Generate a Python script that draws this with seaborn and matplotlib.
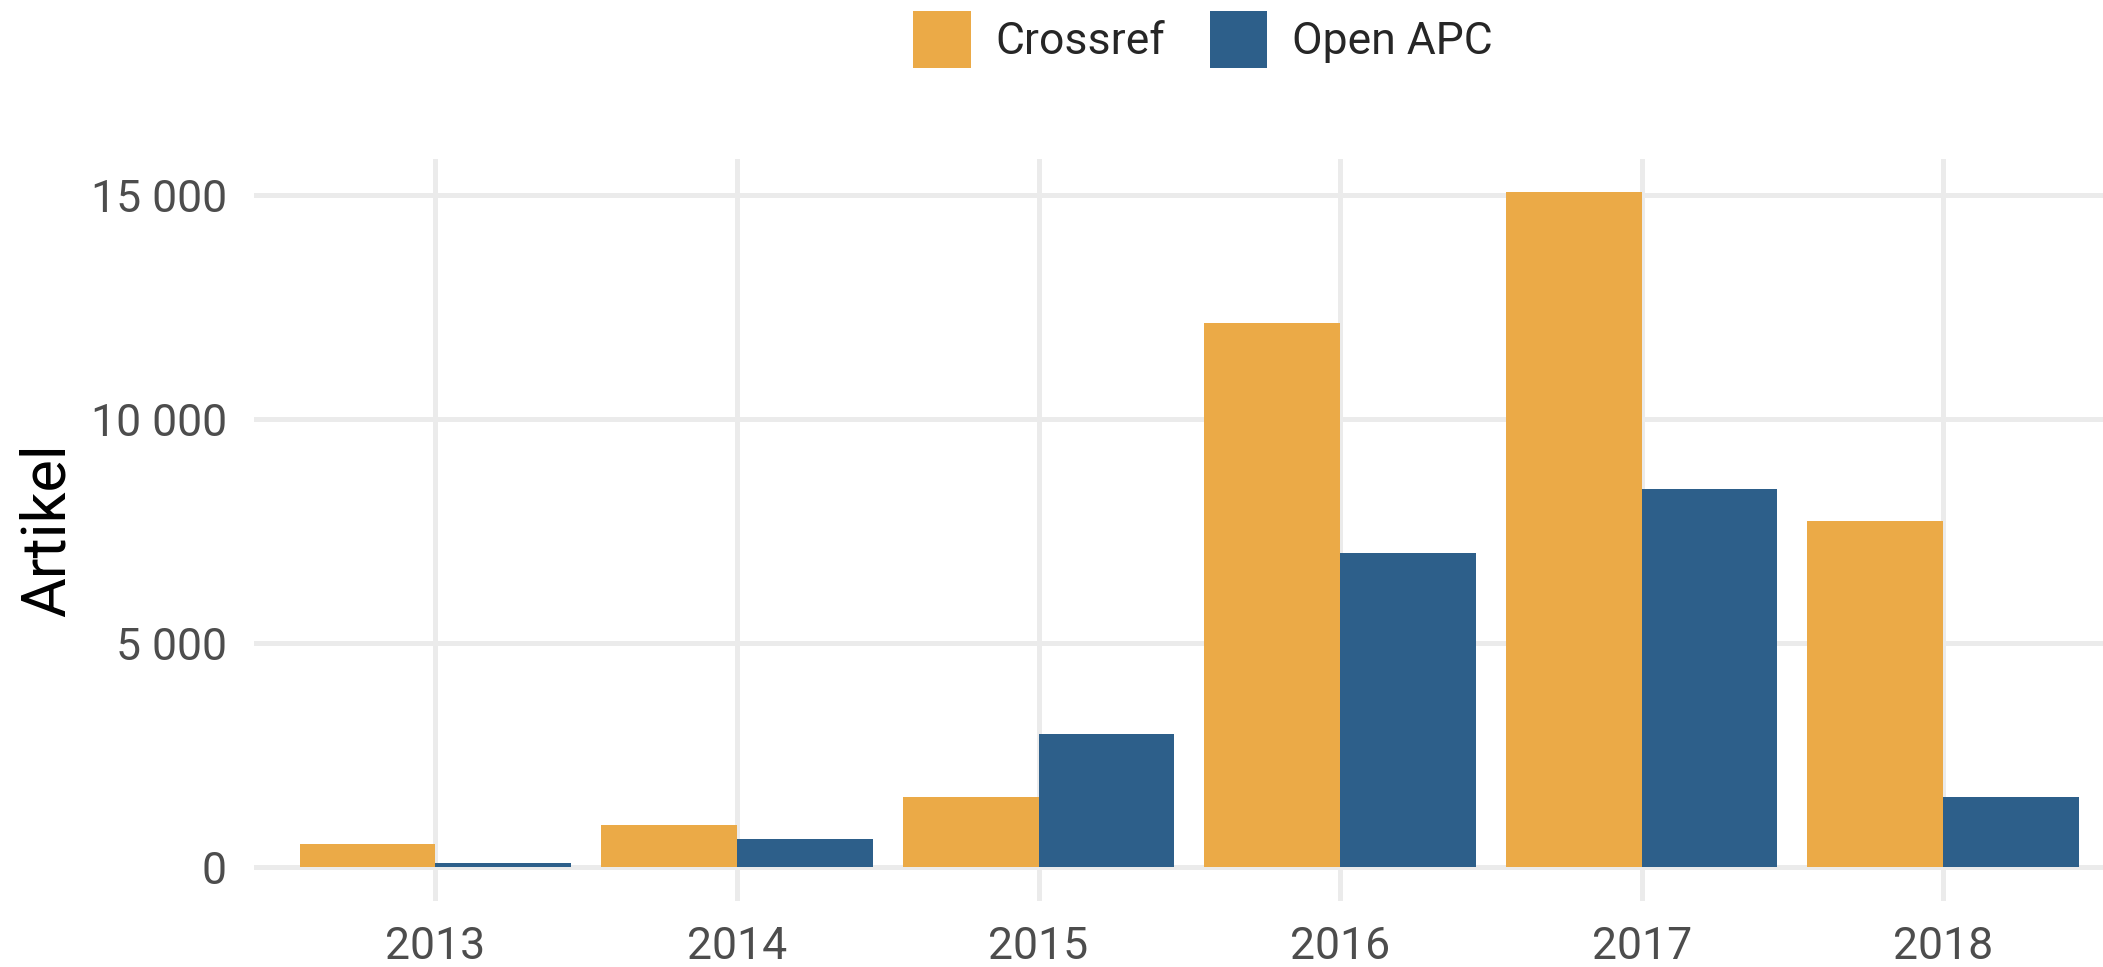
import matplotlib
matplotlib.use("Agg")
import matplotlib.pyplot as plt
from matplotlib.ticker import FuncFormatter, FixedLocator
import seaborn as sns
import pandas as pd

# data
years = ["2013", "2014", "2015", "2016", "2017", "2018"]
crossref = [530, 950, 1580, 12150, 15070, 7740]
open_apc = [105, 630, 2980, 7010, 8440, 1575]
sources = ["Crossref", "Open APC"]
colors = ["#EBAA47", "#2D5F8A"]

df = pd.DataFrame({
    "year": years * 2,
    "artikel": crossref + open_apc,
    "source": [sources[0]] * len(years) + [sources[1]] * len(years),
})

sns.set_theme(style="white")
plt.rcParams["font.family"] = ["Roboto", "DejaVu Sans"]

fig = plt.figure(figsize=(21.03, 9.67), dpi=100)
ax = fig.add_axes([0.121, 0.068, 0.879, 0.768])

sns.barplot(data=df, x="year", y="artikel", hue="source", palette=colors,
            width=0.9, saturation=1, linewidth=0, errorbar=None, ax=ax, zorder=3)

ymax = max(max(crossref), max(open_apc))
ax.set_ylim(-0.05 * ymax, 1.05 * ymax)
ax.set_xlim(-0.6, 5.53)
ax.yaxis.set_major_locator(FixedLocator([0, 5000, 10000, 15000]))
ax.yaxis.set_major_formatter(FuncFormatter(lambda v, p: f"{v:,.0f}".replace(",", " ")))

ax.grid(True, axis="both", color="#EBEBEB", linewidth=3.6, zorder=0)
ax.set_axisbelow(True)
for s in ax.spines.values():
    s.set_visible(False)

ax.tick_params(axis="both", length=0, labelsize=32, labelcolor="#4D4D4D")
ax.tick_params(axis="y", pad=20)
ax.tick_params(axis="x", pad=18)
ax.set_xlabel("")
ax.set_ylabel("Artikel", fontsize=44, color="black", labelpad=10)

handles, labels = ax.get_legend_handles_labels()
ax.legend_.remove()
fig.legend(handles, labels, loc="upper center", bbox_to_anchor=(0.572, 1.0),
           ncol=2, frameon=False, fontsize=32, handlelength=1.3, handleheight=1.6,
           handletextpad=0.55, columnspacing=1.0, borderaxespad=0.0,
           borderpad=0.25)

fig.savefig("out.png", dpi=100)
